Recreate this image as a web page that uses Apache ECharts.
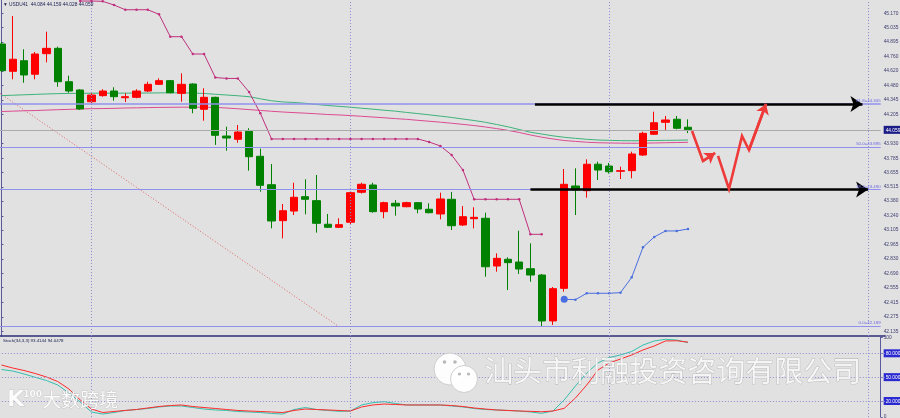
<!DOCTYPE html>
<html>
<head>
<meta charset="utf-8">
<script src="https://cdn.jsdelivr.net/npm/echarts@6/dist/echarts.min.js"></script>
<style>
  html, body { margin: 0; padding: 0; background: #e1e1e1; }
  #chart { width: 900px; height: 418px; }
</style>
</head>
<body>
<div id="chart"></div>
<script>
// candles, one per slot (red = up, green = down)
const candleOpen = [44.877, 44.617, 44.718, 44.589, 44.785, 44.836, 44.518, 44.439, 44.327, 44.385,
  44.429, 44.365, 44.369, 44.429, 44.493, 44.528, 44.407, 44.496, 44.255, 44.369,
  44.000, 43.969, 44.045, 43.807, 43.536, 43.193, 43.285, 43.422, 43.384, 43.159,
  43.130, 43.178, 43.464, 43.533, 43.279, 43.359, 43.326, 43.365, 43.302, 43.257,
  43.397, 43.152, 43.212, 43.216, 42.761, 42.825, 42.799, 42.735, 42.675, 42.237,
  42.548, 43.524, 43.479, 43.731, 43.714, 43.664, 43.670, 43.819, 44.017, 44.131,
  44.160, 44.084]
const candleClose = [44.623, 44.732, 44.582, 44.782, 44.836, 44.518, 44.429, 44.258, 44.391, 44.429,
  44.375, 44.375, 44.429, 44.493, 44.528, 44.413, 44.493, 44.264, 44.369, 44.007,
  43.981, 44.038, 43.803, 43.530, 43.190, 43.288, 43.416, 43.397, 43.168, 43.130,
  43.155, 43.460, 43.540, 43.279, 43.365, 43.333, 43.365, 43.304, 43.269, 43.400,
  43.145, 43.231, 43.225, 42.754, 42.834, 42.793, 42.732, 42.675, 42.237, 42.545,
  43.540, 43.486, 43.731, 43.676, 43.660, 43.670, 43.829, 44.026, 44.127, 44.153,
  44.074, 44.059]
const candleLow = [44.610, 44.541, 44.508, 44.541, 44.703, 44.470, 44.413, 44.248, 44.312, 44.375,
  44.337, 44.324, 44.360, 44.420, 44.487, 44.407, 44.327, 44.217, 44.146, 43.915,
  43.860, 43.936, 43.670, 43.469, 43.120, 43.025, 43.247, 43.254, 43.079, 43.123,
  43.123, 43.161, 43.452, 43.269, 43.216, 43.241, 43.321, 43.263, 43.263, 43.206,
  43.104, 43.142, 43.120, 42.659, 42.707, 42.532, 42.685, 42.611, 42.182, 42.199,
  42.516, 43.247, 43.412, 43.581, 43.643, 43.590, 43.597, 43.810, 44.010, 44.058,
  44.064, 44.028]
const candleHigh = [44.896, 45.144, 44.827, 44.801, 44.995, 44.852, 44.575, 44.446, 44.407, 44.446,
  44.465, 44.407, 44.446, 44.518, 44.550, 44.534, 44.598, 44.503, 44.455, 44.375,
  44.089, 44.105, 44.074, 43.879, 43.733, 43.352, 43.555, 43.588, 43.629, 43.257,
  43.216, 43.476, 43.555, 43.555, 43.374, 43.390, 43.374, 43.371, 43.359, 43.460,
  43.467, 43.333, 43.321, 43.269, 42.882, 42.844, 43.098, 42.977, 42.685, 42.561,
  43.686, 43.692, 43.778, 43.755, 43.743, 43.708, 43.851, 44.041, 44.232, 44.191,
  44.191, 44.159]

// moving averages
const maGreen = [44.385, 44.389, 44.393, 44.397, 44.401, 44.404, 44.406, 44.407, 44.408, 44.408,
  44.408, 44.409, 44.410, 44.410, 44.411, 44.412, 44.412, 44.410, 44.406, 44.398,
  44.391, 44.384, 44.375, 44.355, 44.336, 44.325, 44.320, 44.312, 44.301, 44.291,
  44.283, 44.275, 44.265, 44.256, 44.246, 44.237, 44.225, 44.214, 44.202, 44.190,
  44.177, 44.162, 44.148, 44.131, 44.110, 44.088, 44.062, 44.036, 44.019, 44.002,
  43.988, 43.978, 43.969, 43.962, 43.959, 43.956, 43.955, 43.956, 43.957, 43.959,
  43.960, 43.962]
const maPink = [44.234, 44.237, 44.241, 44.243, 44.247, 44.251, 44.254, 44.258, 44.261, 44.262,
  44.264, 44.267, 44.269, 44.271, 44.273, 44.274, 44.275, 44.275, 44.275, 44.273,
  44.267, 44.260, 44.252, 44.244, 44.236, 44.229, 44.223, 44.218, 44.212, 44.205,
  44.201, 44.195, 44.188, 44.181, 44.174, 44.166, 44.159, 44.150, 44.141, 44.132,
  44.122, 44.111, 44.100, 44.086, 44.071, 44.054, 44.034, 44.010, 43.989, 43.972,
  43.957, 43.949, 43.941, 43.936, 43.934, 43.932, 43.931, 43.932, 43.934, 43.936,
  43.938, 43.940]

// trailing stops (first slot + values)
const stopHighStart = 7
const stopHigh = [45.287, 45.287, 45.284, 45.249, 45.204, 45.204, 45.204, 45.160, 44.947, 44.947,
  44.782, 44.782, 44.558, 44.549, 44.549, 44.420, 44.217, 43.972, 43.972, 43.972,
  43.972, 43.972, 43.972, 43.972, 43.972, 43.972, 43.972, 43.972, 43.972, 43.972,
  43.972, 43.943, 43.905, 43.819, 43.676, 43.397, 43.397, 43.397, 43.397, 43.397,
  43.063, 43.063]
const stopLowStart = 50
const stopLow = [42.444, 42.440, 42.501, 42.501, 42.501, 42.507, 42.653, 42.939, 43.038, 43.095, 43.095, 43.114]

// stochastic (34,3,3)
const stochMain = [59.6, 57.7, 54.0, 49.8, 45.8, 40.1, 30.1, 18.7, 6.2, 3.6,
  5.5, 8.1, 9.3, 10.6, 12.5, 13.7, 13.7, 11.8, 9.9, 8.7,
  8.1, 6.8, 6.2, 5.5, 4.3, 3.6, 9.3, 11.8, 9.3, 8.1,
  7.0, 7.4, 15.0, 17.9, 19.1, 16.9, 15.0, 15.0, 15.0, 15.0,
  13.7, 12.5, 10.6, 9.3, 8.7, 8.1, 7.4, 6.2, 4.5, 7.4,
  21.3, 38.9, 55.2, 67.8, 74.7, 77.9, 82.3, 90.4, 95.5, 97.6,
  96.7, 93.4144]
const stochSignal = [65.3, 61.5, 58.4, 54.6, 50.2, 44.5, 35.1, 21.3, 9.9, 5.5,
  6.8, 8.1, 9.3, 11.2, 13.1, 14.3, 15.0, 13.1, 11.8, 10.6,
  9.3, 8.1, 7.4, 6.8, 6.2, 5.5, 8.1, 9.9, 9.3, 8.7,
  8.1, 7.4, 12.5, 15.0, 16.2, 15.6, 15.0, 15.0, 15.0, 15.0,
  14.3, 13.1, 11.2, 9.9, 8.7, 8.1, 7.4, 7.0, 6.5, 7.4,
  10.8, 23.8, 40.1, 59.0, 67.8, 72.8, 77.9, 84.2, 89.2, 95.5,
  95.8, 94.0478]

// drawn objects: fibonacci levels, trend line, arrows, forecast zigzags ([slot, price])
const fibNames = ['61.8', '50.0', '38.2', '0.0']
const fibLevels = [44.305, 43.895, 43.490, 42.189]
const trendLine = [[-0.13, 44.407], [29.9, 42.189]]
const arrowTop = [[47.4, 44.305], [76.5, 44.305]]
const arrowBottom = [[47.0, 43.490], [77.0, 43.490]]
const zigzagA = [[61.36, 44.048], [62.33, 43.762], [63.4, 43.838]]
const zigzagB = [[63.67, 43.81], [64.64, 43.495], [65.8, 44.0], [66.42, 43.867], [67.93, 44.305]]
const gridSlots = [8, 31, 54, 77]

// axis labels
const priceTicks = ['45.170', '45.035', '44.895', '44.760', '44.620', '44.480', '44.345', '44.205',
  '44.059', '43.930', '43.785', '43.655', '43.515', '43.380', '43.240', '43.105', '42.965',
  '42.830', '42.690', '42.555', '42.415', '42.275', '42.135']
const currentPrice = '44.059'
const stochTicks = ['100', '80.0000', '50.0000', '20.0000', '0']
const headerText = '\u25BC USDU41  44.084 44.159 44.028 44.059'
const stochText = 'Stoch(34,3,3) 93.4144 94.0478'

// layout
const slotCount = 79
const slotPx = 11.255
const gridLeft = -4.18
const mainHeight = 336
const priceMax = 45.2968
const priceMin = 42.0937
const axisShift = -4.3

const slots = Array.from({ length: slotCount }, (_, i) => String(i))
const candles = candleOpen.map((o, i) => [o, candleClose[i], candleLow[i], candleHigh[i]])
const stopHighData = stopHigh.map((v, i) => [stopHighStart + i, v])
const stopLowData = stopLow.map((v, i) => (i === 0
  ? { value: [stopLowStart, v], symbolSize: 7 }
  : [stopLowStart + i, v]))

const axisColor = '#5a5a9c'
const dotColor = '#8c8cd4'
const labelFont = 'Liberation Sans'

function vLines() {
  return {
    silent: true,
    symbol: ['none', 'none'],
    label: { show: false },
    lineStyle: { color: dotColor, type: [1, 2], width: 1 },
    data: gridSlots.map(s => ({ xAxis: s }))
  }
}

// last segment of a path, with an arrow head at its end
function arrowSeg(path) {
  const a = path[path.length - 2]
  const b = path[path.length - 1]
  return [{ coord: a }, { coord: b }]
}

const chart = echarts.init(document.getElementById('chart'))

chart.setOption({
  animation: false,
  backgroundColor: '#e1e1e1',
  textStyle: { fontFamily: labelFont },
  grid: [
    { left: gridLeft, top: 0, width: slotCount * slotPx, height: mainHeight, outerBoundsMode: 'none', containLabel: false },
    { left: gridLeft, top: 337.4, width: slotCount * slotPx, height: 79.5, outerBoundsMode: 'none', containLabel: false }
  ],
  xAxis: [
    {
      type: 'category', gridIndex: 0, data: slots, boundaryGap: true,
      axisLine: { show: true, onZero: false, lineStyle: { color: '#2e2e7a', width: 1.5 } },
      axisTick: { show: false }, axisLabel: { show: false }, splitLine: { show: false }
    },
    { type: 'value', gridIndex: 0, min: -0.5, max: slotCount - 0.5, show: false },
    { type: 'category', gridIndex: 1, data: slots, boundaryGap: true, show: false }
  ],
  yAxis: [
    {
      type: 'value', gridIndex: 0, position: 'right', offset: axisShift,
      min: priceMin, max: priceMax,
      axisLine: { show: true, lineStyle: { color: axisColor, width: 1 } },
      axisTick: { show: true, length: 2, customValues: priceTicks.map(Number), lineStyle: { color: axisColor } },
      splitLine: { show: false },
      axisLabel: {
        show: true, margin: 3, fontSize: 4.8, color: '#3c3c70',
        customValues: priceTicks.map(Number),
        formatter: v => {
          const s = v.toFixed(3)
          return s === currentPrice ? '{cur|' + s + '}' : s
        },
        rich: { cur: { backgroundColor: '#1c1c88', color: '#ffffff', fontSize: 4.8, padding: [2, 2, 1, 2] } }
      }
    },
    {
      type: 'value', gridIndex: 1, position: 'right', offset: axisShift,
      min: 0, max: 100,
      axisLine: { show: true, lineStyle: { color: axisColor, width: 1 } },
      axisTick: { show: true, length: 2, customValues: stochTicks.map(Number), lineStyle: { color: axisColor } },
      splitLine: { show: false },
      axisLabel: {
        show: true, margin: 3, fontSize: 4.8, color: '#3c3c70',
        customValues: stochTicks.map(Number),
        formatter: v => {
          const s = stochTicks.find(t => Number(t) === v)
          return s.indexOf('.') > 0 ? '{hl|' + s + '}' : s
        },
        rich: { hl: { backgroundColor: '#2a2ad0', color: '#ffffff', fontSize: 4.8, padding: [2, 2, 1, 2] } }
      }
    }
  ],
  series: [
    {
      // fibonacci levels, current price line, dotted trend line
      type: 'line', xAxisIndex: 1, yAxisIndex: 0, z: 1,
      data: trendLine, symbol: 'none',
      lineStyle: { color: '#e06464', width: 1, type: [1, 2] },
      markLine: {
        silent: true, symbol: ['none', 'none'],
        lineStyle: { type: 'solid' },
        data: fibLevels.map((p, i) => [
          { coord: [-0.5, p], lineStyle: { color: '#9090ee', width: i === 0 ? 1.6 : 1.2, type: 'solid' } },
          {
            coord: [78.12, p],
            label: {
              show: true, position: 'insideEndTop', distance: [0, 1], fontSize: 4.4,
              color: '#6a6ae6', formatter: fibNames[i] + '=' + p.toFixed(3)
            }
          }
        ]).concat([[
          { coord: [-0.5, Number(currentPrice)], lineStyle: { color: '#aaaaaa', width: 1, type: 'solid' } },
          { coord: [78.12, Number(currentPrice)], label: { show: false } }
        ]])
      }
    },
    {
      type: 'line', xAxisIndex: 0, yAxisIndex: 0, z: 2,
      data: maGreen, symbol: 'none',
      lineStyle: { color: '#3db37a', width: 1 },
      markLine: vLines()
    },
    {
      type: 'line', xAxisIndex: 0, yAxisIndex: 0, z: 2,
      data: maPink, symbol: 'none',
      lineStyle: { color: '#dd4a92', width: 1 }
    },
    {
      type: 'candlestick', xAxisIndex: 0, yAxisIndex: 0, z: 3,
      data: candles, barWidth: 7.8,
      itemStyle: { color: '#ff0000', color0: '#008200', borderColor: '#ff0000', borderColor0: '#008200', borderWidth: 1 }
    },
    {
      type: 'line', xAxisIndex: 0, yAxisIndex: 0, z: 4,
      data: stopHighData, symbol: 'circle', symbolSize: 2.5, showSymbol: true,
      itemStyle: { color: '#c0307e' }, lineStyle: { color: '#c0307e', width: 1 }
    },
    {
      type: 'line', xAxisIndex: 0, yAxisIndex: 0, z: 4,
      data: stopLowData, symbol: 'circle', symbolSize: 2.5, showSymbol: true,
      itemStyle: { color: '#4a6ee0' }, lineStyle: { color: '#4a6ee0', width: 1 }
    },
    {
      // black horizontal arrows
      type: 'line', xAxisIndex: 1, yAxisIndex: 0, z: 5, data: [],
      markLine: {
        silent: true, symbol: ['none', 'arrow'], symbolSize: 12,
        lineStyle: { color: '#000000', width: 2.6, type: 'solid' },
        itemStyle: { color: '#000000' },
        label: { show: false },
        data: [arrowSeg(arrowTop), arrowSeg(arrowBottom)]
      }
    },
    {
      type: 'line', xAxisIndex: 1, yAxisIndex: 0, z: 6,
      data: zigzagA, symbol: 'none',
      lineStyle: { color: '#ef3a3a', width: 2.6, join: 'miter' },
      markLine: {
        silent: true, symbol: ['none', 'arrow'], symbolSize: 10,
        lineStyle: { color: '#ef3a3a', width: 2.6, type: 'solid' },
        itemStyle: { color: '#ef3a3a' },
        label: { show: false },
        data: [arrowSeg(zigzagA)]
      }
    },
    {
      type: 'line', xAxisIndex: 1, yAxisIndex: 0, z: 6,
      data: zigzagB, symbol: 'none',
      lineStyle: { color: '#ef3a3a', width: 2.6, join: 'miter' },
      markLine: {
        silent: true, symbol: ['none', 'arrow'], symbolSize: 10,
        lineStyle: { color: '#ef3a3a', width: 2.6, type: 'solid' },
        itemStyle: { color: '#ef3a3a' },
        label: { show: false },
        data: [arrowSeg(zigzagB)]
      }
    },
    {
      type: 'line', xAxisIndex: 2, yAxisIndex: 1, z: 3,
      data: stochMain, symbol: 'none',
      lineStyle: { color: '#36bfae', width: 1 },
      markLine: {
        silent: true, symbol: ['none', 'none'], label: { show: false },
        lineStyle: { color: dotColor, type: [1, 2], width: 1 },
        data: [{ yAxis: 80 }, { yAxis: 50 }, { yAxis: 20 }].concat(gridSlots.map(s => ({ xAxis: s })))
      }
    },
    {
      type: 'line', xAxisIndex: 2, yAxisIndex: 1, z: 3,
      data: stochSignal, symbol: 'none',
      lineStyle: { color: '#ff2a2a', width: 1 }
    }
  ],
  graphic: [
    { type: 'text', left: 3, top: 2, z: 10, style: { text: headerText, fontSize: 4.8, fill: '#1a1a50', fontFamily: labelFont } },
    { type: 'text', left: 3, top: 339, z: 10, style: { text: stochText, fontSize: 4.4, fill: '#1a1a50', fontFamily: labelFont } },
    // watermarks
    { type: 'circle', z: 20, shape: { cx: 450, cy: 369, r: 16 }, style: { fill: 'rgba(255,255,255,0.92)', stroke: '#c4c4c4', lineWidth: 0.8 } },
    { type: 'circle', z: 21, shape: { cx: 464, cy: 379, r: 13.5 }, style: { fill: 'rgba(255,255,255,0.95)', stroke: '#c4c4c4', lineWidth: 0.8 } },
    { type: 'circle', z: 22, shape: { cx: 444.5, cy: 362, r: 1.8 }, style: { fill: '#b8b8b8' } },
    { type: 'circle', z: 22, shape: { cx: 455, cy: 362, r: 1.8 }, style: { fill: '#b8b8b8' } },
    { type: 'circle', z: 22, shape: { cx: 459.5, cy: 374, r: 1.6 }, style: { fill: '#b8b8b8' } },
    { type: 'circle', z: 22, shape: { cx: 468.5, cy: 374, r: 1.6 }, style: { fill: '#b8b8b8' } },
    {
      type: 'text', left: 484, top: 356, z: 20,
      style: { text: '汕头市利融投资咨询有限公司', font: '29px "Noto Sans CJK SC"', fill: 'rgba(252,252,252,0.8)', stroke: 'rgba(150,150,150,0.7)', lineWidth: 0.6 }
    },
    {
      type: 'text', left: 7, top: 389, z: 20,
      style: { text: 'K', font: 'bold 22px "DejaVu Sans"', fill: 'rgba(255,255,255,0.9)', stroke: 'rgba(150,150,150,0.6)', lineWidth: 0.6 }
    },
    {
      type: 'text', left: 23, top: 390, z: 20,
      style: { text: '100', font: 'bold 9px "DejaVu Sans"', fill: 'rgba(255,255,255,0.9)', stroke: 'rgba(150,150,150,0.6)', lineWidth: 0.5 }
    },
    {
      type: 'text', left: 42, top: 390, z: 20,
      style: { text: '大数跨境', font: '19px "Noto Sans CJK SC"', fill: 'rgba(255,255,255,0.92)', stroke: 'rgba(150,150,150,0.6)', lineWidth: 0.6 }
    }
  ]
})
</script>
</body>
</html>
